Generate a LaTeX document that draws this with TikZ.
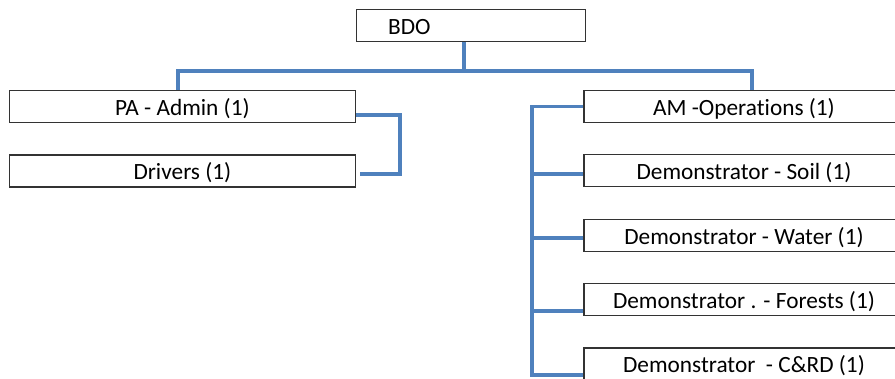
\documentclass[tikz,border=0pt]{standalone}
\usepackage{fontspec}
\setmainfont{Carlito}[Ligatures=NoCommon]
\definecolor{linkblue}{RGB}{79,129,189}
\begin{document}
\begin{tikzpicture}[x=1pt,y=-1pt]
\tikzstyle{every node}+=[inner sep=0pt, font=\fontsize{23.3}{28}\selectfont]
\tikzstyle{post}=[draw=black!80, line width=1.2pt, minimum height=32pt, text height=19pt, text depth=1pt]
\tikzstyle{leftpost}=[post, minimum width=346.5pt]
\tikzstyle{rightpost}=[post, minimum width=320pt]
\tikzstyle{link}=[draw=linkblue, line width=3.8pt]
\clip (0,0) rectangle (895,379);
% boxes
\node [post, minimum width=229pt, text width=229pt, align=left] (bdo) at (470.7,25.3) {\hspace*{32pt}BDO};
\node [leftpost] (pa) at (182.4,106.5) {PA - Admin (1)};
\node [leftpost] (drivers) at (182.4,171) {Drivers (1)};
\node [rightpost] (am) at (744,106.5) {AM -Operations (1)};
\node [rightpost] (soil) at (744,170.5) {Demonstrator - Soil (1)};
\node [rightpost] (water) at (744,235.5) {Demonstrator - Water (1)};
\node [rightpost] (forests) at (744,299.5) {Demonstrator . - Forests (1)};
\node [rightpost] (crd) at (744,364) {Demonstrator~~- C\&RD (1)};
% top bus
\coordinate (busL) at (178,71);
\coordinate (busM) at (464,71);
\coordinate (busR) at (752,71);
\draw [link] (bdo.south -| busM) -- (busM);
\draw [link] (pa.north -| busL) -- (busL) -- (busR) -- (am.north -| busR);
% admin side
\coordinate (kink) at (400,115);
\coordinate (drvIn) at (360,174);
\draw [link] (pa.east |- kink) -- (kink) |- (drvIn);
% operations side
\coordinate (spineTop) at (532,106.5);
\coordinate (spineEnd) at (532,375);
\draw [link] (am.west) -- (spineTop) -- (spineEnd) -- (crd.west |- spineEnd);
\foreach \n/\y in {soil/174, water/238, forests/311}
  \draw [link] (532,\y) -- (\n.west |- 0,\y);
\end{tikzpicture}
\end{document}
